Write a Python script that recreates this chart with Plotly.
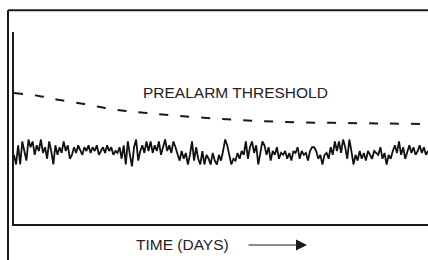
import plotly.graph_objects as go

# Threshold (dashed) curve
threshold_days = [0, 6, 11, 17, 22, 27, 32, 40, 50, 60, 70, 80, 90, 100]
threshold_vals = [68.2, 66.7, 64.6, 62.5, 60.4, 58.9, 57.8, 56.3, 54.7, 53.6, 52.9, 52.6, 52.3, 52.1]

# Noisy sensor signal (one value every half day)
signal_vals = [
    36, 31, 41, 31, 43, 38, 33, 44, 40, 43, 36, 41, 38, 44, 37, 40, 34, 43, 38, 31,
    41, 36, 40, 37, 43, 38, 41, 34, 36, 40, 37, 41, 38, 36, 40, 38, 41, 37, 40, 38,
    41, 36, 38, 40, 37, 41, 38, 40, 36, 38, 37,
    40, 34, 41, 31, 43, 36, 30, 40, 44, 33, 38, 41, 37, 43, 38, 43, 37, 41, 38, 43,
    36, 40, 44, 38, 41, 37, 43, 40, 36, 33, 38, 34, 37, 31, 36, 43, 33, 40, 34, 31,
    38, 31, 36, 34, 31, 37, 33, 31, 36, 33,
    38, 44, 41, 36, 31, 34, 33, 37, 34, 38, 36, 43, 34, 40, 43, 37, 41, 31, 38, 43,
    41, 36, 40, 33, 38, 36, 40, 34, 37, 36, 38, 34, 37, 33, 38, 37, 40, 34, 38, 36,
    37, 33, 38, 40, 40, 38, 34, 36, 31, 36,
    37, 34, 40, 36, 43, 38, 43, 37, 44, 40, 34, 44, 38, 31, 36, 33, 38, 34, 37, 33,
    38, 36, 34, 38, 37, 36, 40, 34, 37, 31, 36, 34, 38, 41, 37, 43, 36, 40, 34, 38,
    41, 37, 40, 36, 38, 41, 37, 40, 36, 38,
]
signal_days = [i * 0.5 for i in range(len(signal_vals))]

threshold_label = "PREALARM THRESHOLD"
x_label = "TIME (DAYS)"

W, H = 428, 260
FONT = "Liberation Sans, Arial, sans-serif"
INK = "#1a1a1a"

fig = go.Figure()
fig.add_trace(go.Scatter(
    x=threshold_days, y=threshold_vals, mode="lines",
    line=dict(color=INK, width=2, dash="9px,12px", shape="spline"),
    hoverinfo="skip", showlegend=False,
))
fig.add_trace(go.Scatter(
    x=signal_days, y=signal_vals, mode="lines",
    line=dict(color="#111111", width=1.8),
    hoverinfo="skip", showlegend=False,
))

fig.update_layout(
    width=W, height=H,
    margin=dict(l=0, r=0, t=0, b=0),
    paper_bgcolor="white", plot_bgcolor="white",
    xaxis=dict(domain=[14 / W, 1], range=[0, 100], showgrid=False, zeroline=False,
               showticklabels=False, ticks="", showline=True, linewidth=2, linecolor=INK),
    yaxis=dict(domain=[36 / H, 228 / H], range=[0, 100], showgrid=False, zeroline=False,
               showticklabels=False, ticks="", showline=True, linewidth=2, linecolor=INK),
    font=dict(family=FONT, color="#222222"),
)

# Outer frame (left and top edges)
fx = 8 / W
fy = 1 - 10.3 / H
fig.add_shape(type="line", xref="paper", yref="paper", x0=fx, x1=fx, y0=0, y1=fy,
              line=dict(color=INK, width=2))
fig.add_shape(type="line", xref="paper", yref="paper", x0=fx, x1=1, y0=fy, y1=fy,
              line=dict(color=INK, width=2))

fig.add_annotation(xref="paper", yref="paper", x=236 / W, y=1 - 92 / H,
                   text=threshold_label, showarrow=False,
                   font=dict(size=15.5, family=FONT, color="#222222"),
                   xanchor="center", yanchor="middle")
fig.add_annotation(xref="paper", yref="paper", x=182.5 / W, y=1 - 244 / H,
                   text=x_label, showarrow=False,
                   font=dict(size=15.5, family=FONT, color="#222222"),
                   xanchor="center", yanchor="middle")
fig.add_annotation(xref="paper", yref="paper", x=307 / W, y=1 - 245 / H,
                   ax=-60, ay=0, axref="pixel", ayref="pixel", text="",
                   showarrow=True, arrowhead=2, arrowsize=2.2, arrowwidth=1,
                   arrowcolor=INK)

fig.write_html(
    "out.html",
    config={"displayModeBar": False},
    post_script="document.body.style.margin='0';document.body.style.overflow='hidden';",
)
